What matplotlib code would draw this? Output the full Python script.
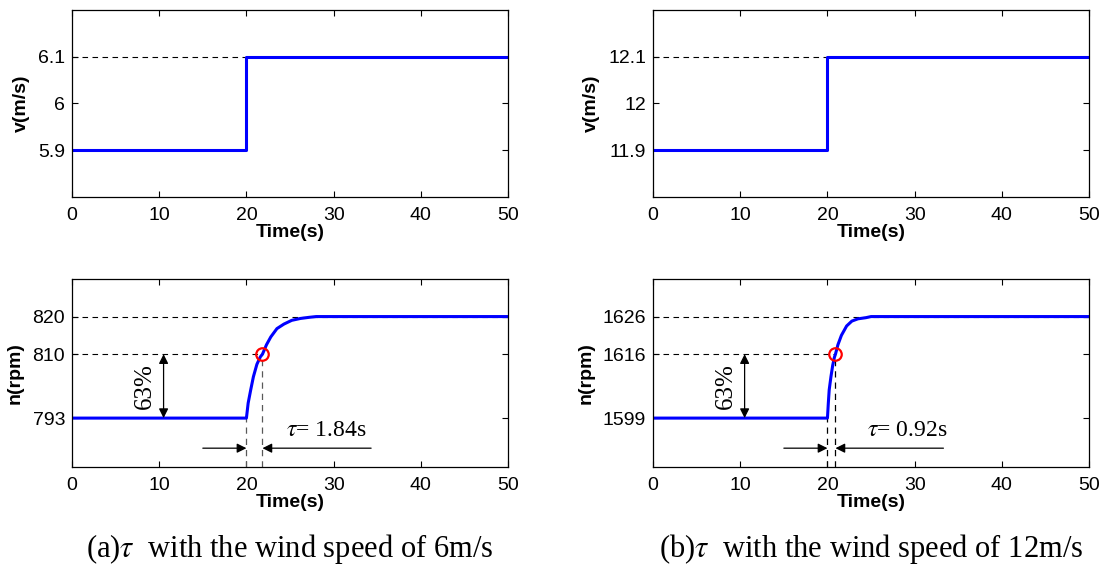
import numpy as np
import matplotlib
matplotlib.use('Agg')
import matplotlib.pyplot as plt

plt.rcParams['font.family'] = ['Liberation Sans', 'DejaVu Sans']
plt.rcParams['mathtext.fontset'] = 'stix'

# wind speed step (m/s)
t_wind = [0, 20, 20, 50]
v6 = [5.9, 5.9, 6.1, 6.1]
v12 = [11.9, 11.9, 12.1, 12.1]

# rotor speed response (s, rpm)
t_n6 = [0, 20, 20.2, 20.5, 20.8, 21.2, 21.6, 21.84, 22.3, 22.8, 23.5, 24.3, 25.2, 26.2, 27.2, 28.0, 50]
n6 = [793, 793, 797, 800.6, 804, 807.3, 809.3, 810, 812.5, 814.6, 816.8, 818.0, 819.0, 819.5, 819.8, 820, 820]
t_n12 = [0, 20, 20.1, 20.2, 20.4, 20.6, 20.8, 20.92, 21.2, 21.6, 22.2, 22.8, 23.5, 24.4, 25.0, 50]
n12 = [1599, 1599, 1603, 1606.5, 1610, 1613, 1615.2, 1616, 1618.5, 1621, 1623.5, 1624.8, 1625.4, 1625.7, 1626, 1626]

cases = [
    dict(v=v6, t_n=t_n6, n=n6, vt=[5.9, 6.0, 6.1], vlim=(5.8, 6.2), vtl=['5.9', '6', '6.1'],
         nt=[793, 810, 820], nlim=(780, 830), n0=793, n63=810, nend=820, tau=1.84,
         tau_txt='$\\tau$= 1.84s', caption='(a)$\\tau$  with the wind speed of 6m/s', vcol='0.35',
         arr_right=34.3),
    dict(v=v12, t_n=t_n12, n=n12, vt=[11.9, 12.0, 12.1], vlim=(11.8, 12.2), vtl=['11.9', '12', '12.1'],
         nt=[1599, 1616, 1626], nlim=(1586, 1636), n0=1599, n63=1616, nend=1626, tau=0.92,
         tau_txt='$\\tau$= 0.92s', caption='(b)$\\tau$  with the wind speed of 12m/s', vcol='k',
         arr_right=33.3),
]

fig = plt.figure(figsize=(11.08, 5.72), dpi=100)
lefts = [0.065, 0.5894]
w = 0.3935
dash = (0, (5, 4))
serif = ['Liberation Serif', 'DejaVu Serif']
label_font = dict(fontweight='bold', fontsize=14, family=['Liberation Sans Narrow', 'Liberation Sans'])

for left, c in zip(lefts, cases):
    ax1 = fig.add_axes([left, 0.6556, w, 0.327])
    ax2 = fig.add_axes([left, 0.1836, w, 0.3287])

    # top: wind speed
    ax1.plot([0, 20], [c['v'][-1]] * 2, color='k', lw=0.8, ls=dash)
    ax1.plot(t_wind, c['v'], color='#0000ff', lw=2.2)
    ax1.set_xlim(0, 50)
    ax1.set_ylim(*c['vlim'])
    ax1.set_yticks(c['vt'])
    ax1.set_yticklabels(c['vtl'])
    ax1.set_ylabel('v(m/s)', labelpad=6, **label_font)
    ax1.set_xlabel('Time(s)', labelpad=0, **label_font)

    # bottom: rotor speed
    ax2.plot([0, 50], [c['nend']] * 2, color='k', lw=0.8, ls=dash)
    ax2.plot([0, c['tau'] + 20], [c['n63']] * 2, color='k', lw=0.8, ls=dash)
    ax2.plot([20, 20], [c['nlim'][0], c['n0']], color=c['vcol'], lw=0.9, ls=dash)
    ax2.plot([20 + c['tau']] * 2, [c['nlim'][0], c['n63']], color=c['vcol'], lw=0.9, ls=dash)
    ax2.plot(c['t_n'], c['n'], color='#0000ff', lw=2.2)
    ax2.plot([20 + c['tau']], [c['n63']], 'o', mfc='none', mec='red', ms=9, mew=1.6)

    y_arr = c['n0'] - 8
    ap = dict(arrowstyle='-|>', color='k', lw=0.9, mutation_scale=14, shrinkA=0, shrinkB=0)
    ax2.annotate('', xy=(20, y_arr), xytext=(15, y_arr), arrowprops=ap)
    ax2.annotate('', xy=(20 + c['tau'], y_arr), xytext=(c['arr_right'], y_arr), arrowprops=ap)
    ax2.text(24.5, y_arr + 2.0, c['tau_txt'], family=serif, fontsize=17, va='bottom', ha='left')

    ap2 = dict(arrowstyle='<|-|>', color='k', lw=0.9, mutation_scale=14, shrinkA=0, shrinkB=0)
    ax2.annotate('', xy=(10.5, c['n63']), xytext=(10.5, c['n0']), arrowprops=ap2)
    ax2.text(8.3, (c['n0'] + c['n63']) / 2, '63%', rotation=90, family=serif, fontsize=18,
             ha='center', va='center')

    ax2.set_xlim(0, 50)
    ax2.set_ylim(*c['nlim'])
    ax2.set_yticks(c['nt'])
    ax2.set_ylabel('n(rpm)', labelpad=6, **label_font)
    ax2.set_xlabel('Time(s)', labelpad=0, **label_font)

    for ax in (ax1, ax2):
        ax.set_xticks([0, 10, 20, 30, 40, 50])
        ax.tick_params(direction='in', top=True, right=True, labelsize=14, length=4, width=0.8)
        ax.tick_params(axis='x', pad=7)
        ax.tick_params(axis='y', pad=5)
        for s in ax.spines.values():
            s.set_linewidth(0.9)

    fig.text(left + w / 2, 0.04, c['caption'], family=serif, fontsize=22, ha='center', va='center')

fig.savefig('out.png', dpi=100)
